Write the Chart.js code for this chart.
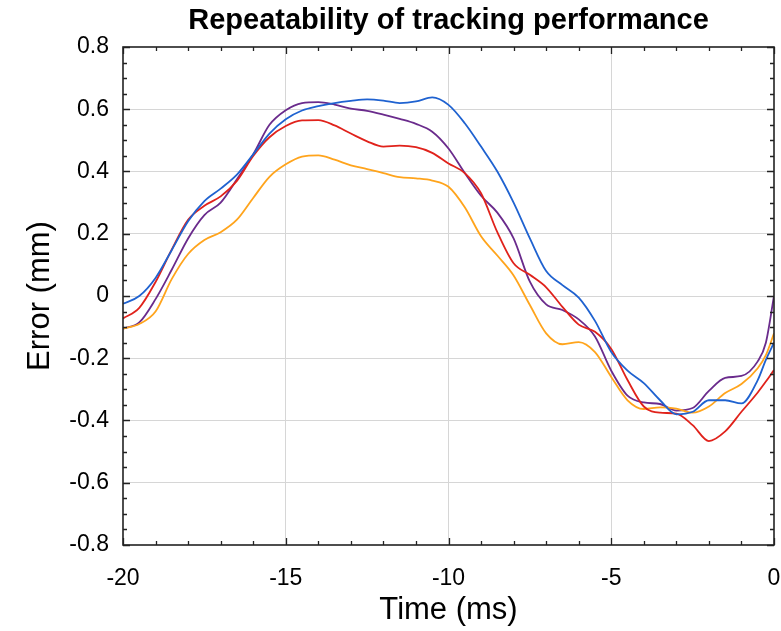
<!DOCTYPE html>
<html>
<head>
<meta charset="utf-8">
<script src="https://cdn.jsdelivr.net/npm/chart.js@4"></script>
<style>
  body { margin: 0; background: #fff; }
</style>
</head>
<body>
<canvas id="chart" width="781" height="631"></canvas>
<script>
// Data
const times = [-20, -19.5, -19, -18.5, -18, -17.5, -17, -16.5, -16, -15.5, -15, -14.5, -14, -13.5, -13, -12.5, -12, -11.5, -11, -10.5,
               -10, -9.5, -9, -8.5, -8, -7.5, -7, -6.5, -6, -5.5, -5, -4.5, -4, -3.5, -3, -2.5, -2, -1.5, -1, -0.5, -0.25, 0];

const blueRun = [-0.025, 0.0, 0.058, 0.148, 0.24, 0.305, 0.345, 0.39, 0.455, 0.522, 0.568, 0.596, 0.61, 0.62, 0.627, 0.632, 0.628, 0.62, 0.625, 0.638,
                 0.614, 0.555, 0.48, 0.40, 0.30, 0.185, 0.08, 0.035, -0.005, -0.08, -0.18, -0.24, -0.28, -0.335, -0.38, -0.372, -0.335, -0.335, -0.345, -0.27, -0.205, -0.15];
const redRun = [-0.072, -0.038, 0.045, 0.15, 0.245, 0.29, 0.32, 0.37, 0.45, 0.51, 0.546, 0.564, 0.565, 0.548, 0.522, 0.497, 0.48, 0.483, 0.478, 0.46,
                0.426, 0.395, 0.33, 0.205, 0.105, 0.068, 0.028, -0.035, -0.092, -0.115, -0.17, -0.27, -0.355, -0.375, -0.378, -0.415, -0.466, -0.435, -0.372, -0.31, -0.275, -0.238];
const orangeRun = [-0.105, -0.09, -0.05, 0.055, 0.135, 0.18, 0.205, 0.245, 0.315, 0.383, 0.423, 0.448, 0.452, 0.438, 0.42, 0.408, 0.395, 0.382, 0.378, 0.371,
                   0.351, 0.285, 0.192, 0.13, 0.066, -0.029, -0.12, -0.155, -0.148, -0.18, -0.26, -0.335, -0.363, -0.358, -0.362, -0.375, -0.355, -0.312, -0.283, -0.232, -0.19, -0.12];
const purpleRun = [-0.105, -0.085, -0.01, 0.085, 0.185, 0.26, 0.30, 0.375, 0.455, 0.55, 0.597, 0.62, 0.623, 0.615, 0.602, 0.595, 0.583, 0.569, 0.553, 0.528,
                   0.474, 0.395, 0.322, 0.268, 0.185, 0.046, -0.027, -0.045, -0.075, -0.13, -0.24, -0.32, -0.342, -0.347, -0.368, -0.36, -0.305, -0.263, -0.257, -0.21, -0.15, 0.0];

const xTicks = [-20, -15, -10, -5, 0];
const yTicks = [-0.8, -0.6, -0.4, -0.2, 0, 0.2, 0.4, 0.6, 0.8];
const xMinorStep = 1;
const yMinorStep = 0.05;

const FONT = "'Liberation Sans', Arial, sans-serif";
const TITLE = 'Repeatability of tracking performance';

function series(values) {
  return times.map((t, i) => ({ x: t, y: values[i] }));
}

// Box around the plot with inward ticks on all four sides, title centred over the plot
const boxTicks = {
  id: 'boxTicks',
  afterDatasetsDraw(chart) {
    const { ctx, chartArea: a, scales: { x, y } } = chart;
    ctx.save();
    ctx.strokeStyle = '#222';
    ctx.lineWidth = 1.3;
    ctx.beginPath();
    for (let v = x.min; v <= x.max + 1e-9; v += xMinorStep) {
      const px = Math.round(x.getPixelForValue(v)) + 0.5;
      const len = xTicks.some(t => Math.abs(t - v) < 1e-6) ? 7 : 4;
      ctx.moveTo(px, a.bottom); ctx.lineTo(px, a.bottom - len);
      ctx.moveTo(px, a.top); ctx.lineTo(px, a.top + len);
    }
    for (let v = y.min; v <= y.max + 1e-9; v += yMinorStep) {
      const py = Math.round(y.getPixelForValue(v)) + 0.5;
      const len = yTicks.some(t => Math.abs(t - v) < 1e-6) ? 7 : 4;
      ctx.moveTo(a.left, py); ctx.lineTo(a.left + len, py);
      ctx.moveTo(a.right, py); ctx.lineTo(a.right - len, py);
    }
    ctx.stroke();
    ctx.lineWidth = 1.6;
    ctx.strokeRect(a.left, a.top, a.right - a.left, a.bottom - a.top);

    ctx.fillStyle = '#000';
    ctx.font = 'bold 29px ' + FONT;
    ctx.textAlign = 'center';
    ctx.textBaseline = 'middle';
    ctx.fillText(TITLE, (a.left + a.right) / 2, 21);
    ctx.restore();
  }
};

function innerGrid(ctx) {
  const v = ctx.tick.value;
  return (v === ctx.scale.min || v === ctx.scale.max) ? 'rgba(0,0,0,0)' : '#d6d6d6';
}

new Chart(document.getElementById('chart').getContext('2d'), {
  type: 'line',
  data: {
    datasets: [
      { label: 'Run 1', data: series(blueRun), borderColor: '#1f62d0' },
      { label: 'Run 2', data: series(redRun), borderColor: '#e0221b' },
      { label: 'Run 3', data: series(orangeRun), borderColor: '#ffa41c' },
      { label: 'Run 4', data: series(purpleRun), borderColor: '#6a2b8c' }
    ]
  },
  options: {
    responsive: false,
    animation: false,
    layout: { padding: { left: 0, right: 7, top: 47, bottom: 0 } },
    elements: {
      point: { radius: 0 },
      line: { borderWidth: 1.8, cubicInterpolationMode: 'monotone', fill: false }
    },
    plugins: {
      legend: { display: false },
      tooltip: { enabled: false },
      title: { display: false }
    },
    scales: {
      x: {
        type: 'linear',
        min: -20,
        max: 0,
        afterBuildTicks: s => { s.ticks = xTicks.map(v => ({ value: v })); },
        afterFit: s => { s.height = 86; s.paddingLeft = 0; s.paddingRight = 0; },
        ticks: { color: '#000', font: { family: FONT, size: 23 }, padding: 20, maxRotation: 0 },
        grid: { color: innerGrid, drawTicks: false, lineWidth: 1 },
        border: { display: false },
        title: { display: true, text: 'Time (ms)', color: '#000', font: { family: FONT, size: 31 }, padding: { top: 0, bottom: 2 } }
      },
      y: {
        min: -0.8,
        max: 0.8,
        afterBuildTicks: s => { s.ticks = yTicks.map(v => ({ value: v })); },
        afterFit: s => { s.width = 123; s.paddingTop = 0; s.paddingBottom = 0; },
        ticks: { color: '#000', font: { family: FONT, size: 23 }, padding: 14, callback: v => String(Math.round(v * 10) / 10) },
        grid: { color: innerGrid, drawTicks: false, lineWidth: 1 },
        border: { display: false },
        title: { display: true, text: 'Error (mm)', color: '#000', font: { family: FONT, size: 31 }, padding: { top: 22, bottom: 0 } }
      }
    }
  },
  plugins: [boxTicks]
});
</script>
</body>
</html>
